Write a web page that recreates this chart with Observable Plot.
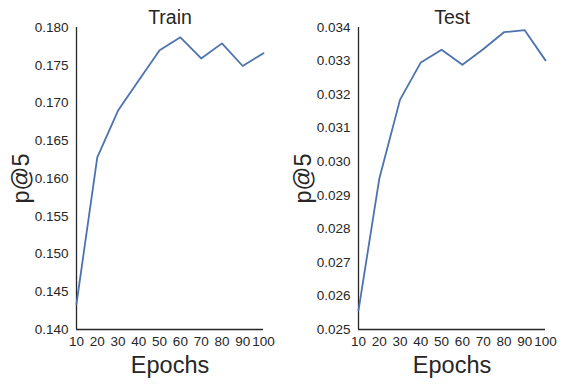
<!DOCTYPE html>
<html>
<head>
<meta charset="utf-8">
<script src="https://cdn.jsdelivr.net/npm/d3@7"></script>
<script src="https://cdn.jsdelivr.net/npm/@observablehq/plot@0.6"></script>
<style>
  html, body { margin: 0; padding: 0; background: #fff; }
  #wrap { position: relative; width: 563px; height: 384px; }
</style>
</head>
<body>
<div id="wrap"></div>
<script>
const epochs = [10, 20, 30, 40, 50, 60, 70, 80, 90, 100];
const trainP5 = [0.1434, 0.1628, 0.1690, 0.1730, 0.1770, 0.1787, 0.1759, 0.1779, 0.1749, 0.1766];
const testP5 = [0.02557, 0.02949, 0.03185, 0.03296, 0.03334, 0.03289, 0.03335, 0.03386, 0.03392, 0.03302];
const trainTicks = [0.140, 0.145, 0.150, 0.155, 0.160, 0.165, 0.170, 0.175, 0.180];
const testTicks = [0.025, 0.026, 0.027, 0.028, 0.029, 0.030, 0.031, 0.032, 0.033, 0.034];
const xTicks = [10, 20, 30, 40, 50, 60, 70, 80, 90, 100];

const FONT = "Liberation Sans, Arial, sans-serif";
const INK = "#262626";

function panel(title, values, yTicks, width) {
  const data = epochs.map((e, i) => ({epoch: e, value: values[i]}));
  const yDomain = [yTicks[0], yTicks[yTicks.length - 1]];
  return Plot.plot({
    width, height: 384,
    marginLeft: 76, marginRight: width - 263, marginTop: 27, marginBottom: 55,
    style: {fontFamily: FONT, background: "white", overflow: "visible"},
    x: {domain: [10, 100], ticks: xTicks},
    y: {domain: yDomain, ticks: yTicks},
    marks: [
      Plot.axisX({ticks: xTicks, tickSize: 0, tickPadding: 7, fontSize: 13.5, color: INK, label: null}),
      Plot.axisY({ticks: yTicks, tickSize: 0, tickPadding: 8, fontSize: 13.5, color: INK, label: null, tickFormat: d3.format(".3f")}),
      Plot.ruleX([10], {stroke: INK, strokeWidth: 1.3}),
      Plot.ruleY([yDomain[0]], {stroke: INK, strokeWidth: 1.3}),
      Plot.line(data, {x: "epoch", y: "value", stroke: "#4C72B0", strokeWidth: 1.8}),
      Plot.text([title], {frameAnchor: "top", dy: -4, lineAnchor: "bottom", fontSize: 19.5, fill: INK}),
      Plot.text(["Epochs"], {frameAnchor: "bottom", dy: 43, lineAnchor: "bottom", fontSize: 23.5, fill: INK}),
      Plot.text(["p@5"], {frameAnchor: "left", dx: -55, rotate: -90, textAnchor: "middle", fontSize: 23.5, fill: INK})
    ]
  });
}

const wrap = document.getElementById("wrap");
const left = panel("Train", trainP5, trainTicks, 282);
left.style.position = "absolute"; left.style.left = "0px"; left.style.top = "0px";
const right = panel("Test", testP5, testTicks, 281);
right.style.position = "absolute"; right.style.left = "282px"; right.style.top = "0px";
wrap.appendChild(left);
wrap.appendChild(right);
</script>
</body>
</html>
